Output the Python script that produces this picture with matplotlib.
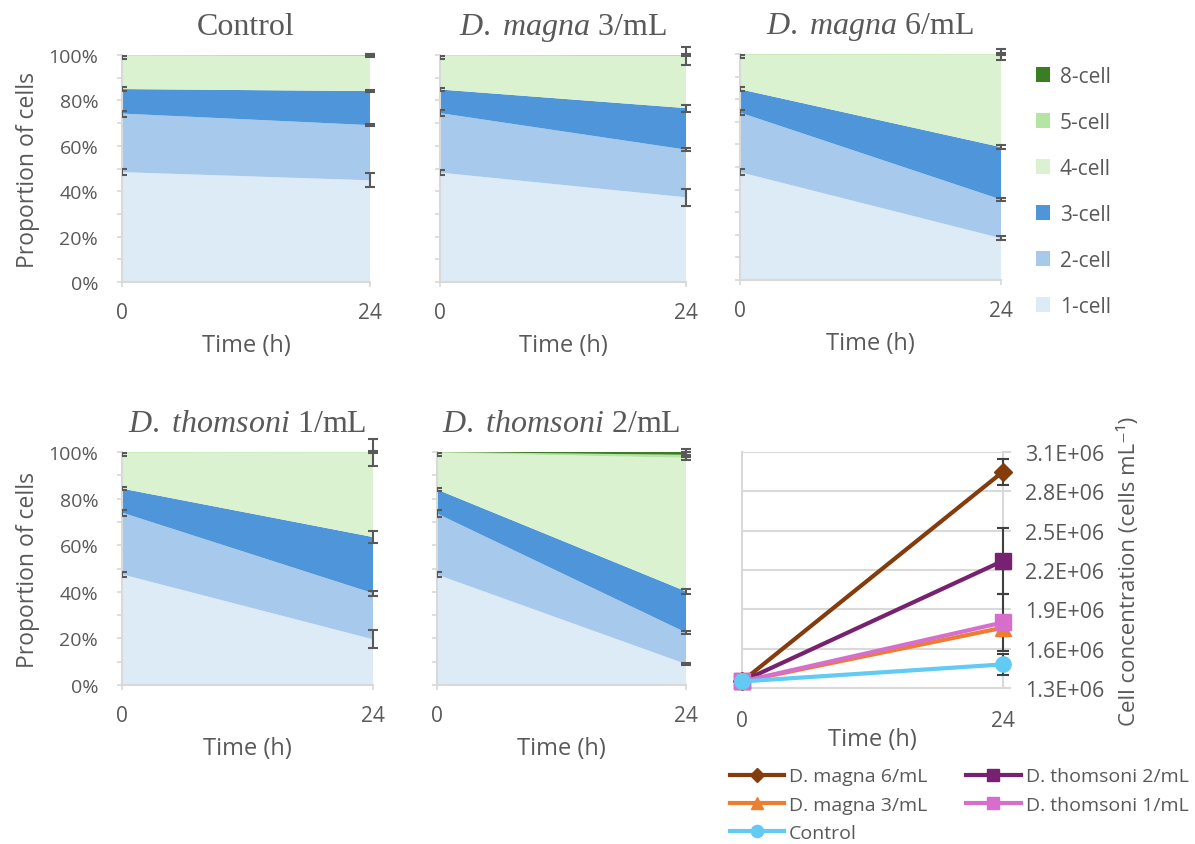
import numpy as np
import matplotlib
matplotlib.use("Agg")
import matplotlib.pyplot as plt
from matplotlib.patches import Patch
from matplotlib.ticker import FuncFormatter, MultipleLocator

plt.rcParams['font.family'] = ['Open Sans', 'DejaVu Sans']
plt.rcParams['mathtext.fontset'] = 'custom'
plt.rcParams['mathtext.rm'] = 'Liberation Serif'
plt.rcParams['mathtext.it'] = 'Liberation Serif:italic'

# ---- data ----
time = [0, 24]
cell_types = ["1-cell", "2-cell", "3-cell", "4-cell", "5-cell", "8-cell"]
cell_colors = ["#DDEBF7", "#A6C9EC", "#4E95D9", "#DAF2D0", "#B4E5A2", "#3B7D23"]

# % of cells at 0 h and 24 h, one row per cell type
control_pct = [[48.4, 44.8], [25.8, 24.3], [10.8, 15.0], [14.7, 15.6], [0.3, 0.2], [0.0, 0.1]]
magna3_pct = [[48.2, 37.3], [26.2, 21.0], [10.4, 18.3], [14.9, 22.9], [0.3, 0.5], [0.0, 0.0]]
magna6_pct = [[47.7, 18.5], [26.4, 17.1], [10.3, 23.2], [15.3, 41.0], [0.3, 0.2], [0.0, 0.0]]
thom1_pct = [[47.5, 19.6], [26.5, 19.8], [10.3, 24.1], [15.4, 36.3], [0.3, 0.2], [0.0, 0.0]]
thom2_pct = [[47.4, 9.0], [26.2, 13.5], [10.3, 17.7], [15.8, 57.3], [0.3, 1.3], [0.0, 1.2]]

control_err = [[1.2, 3.0], [1.3, 0.5], [0.8, 0.5], [1.5, 0.8], [0.3, 0.3], [0.2, 0.3]]
magna3_err = [[1.2, 3.7], [1.3, 0.8], [0.8, 1.5], [1.5, 4.0], [0.3, 0.4], [0.2, 0.2]]
magna6_err = [[1.2, 0.8], [1.3, 0.6], [0.8, 1.0], [1.5, 2.5], [0.3, 0.3], [0.2, 0.2]]
thom1_err = [[1.2, 3.8], [1.3, 1.0], [0.8, 2.4], [1.5, 5.6], [0.3, 0.3], [0.2, 0.2]]
thom2_err = [[1.2, 0.3], [1.3, 0.7], [0.8, 1.0], [1.5, 0.8], [0.3, 1.0], [0.2, 1.5]]

# cell concentration (cells/mL)
treatments = ["D. magna 6/mL", "D. thomsoni 2/mL", "D. magna 3/mL", "D. thomsoni 1/mL", "Control"]
conc_magna6 = [1.35e6, 2.95e6]
conc_thom2 = [1.35e6, 2.27e6]
conc_magna3 = [1.35e6, 1.76e6]
conc_thom1 = [1.35e6, 1.80e6]
conc_control = [1.35e6, 1.48e6]
err_magna6 = [0.02e6, 0.10e6]
err_thom2 = [0.02e6, 0.25e6]
err_magna3 = [0.02e6, 0.06e6]
err_thom1 = [0.02e6, 0.22e6]
err_control = [0.02e6, 0.08e6]
line_colors = ["#843C0C", "#782170", "#ED7D31", "#D86ECC", "#61CBF3"]
line_markers = ["D", "s", "^", "s", "o"]

txt = "#595959"
grey = "#D9D9D9"

W, H = 1195, 845
fig = plt.figure(figsize=(W / 100, H / 100), dpi=100)


def box(l, t, r, b):
    return [l / W, 1 - b / H, (r - l) / W, (b - t) / H]


def stack_panel(rect, pct, err, title, show_y):
    ax = fig.add_axes(box(*rect))
    pct = np.array(pct) / 100
    err = np.array(err) / 100
    ax.stackplot(time, pct, colors=cell_colors)
    tops = np.cumsum(pct, axis=0)
    for i in range(len(cell_types)):
        # 0 h bars are cut by the plot edge, 24 h bars are drawn whole
        for j, clip in zip(range(len(time)), [True, False]):
            ax.errorbar(time[j], tops[i][j], yerr=err[i][j], fmt="none", ecolor=txt,
                        elinewidth=1.5, capsize=3.5, capthick=1.5, clip_on=clip, zorder=5)
    ax.set_xlim(0, 24)
    ax.set_ylim(0, 1)
    ax.set_xticks([0, 24])
    ax.yaxis.set_major_locator(MultipleLocator(0.2))
    ax.yaxis.set_minor_locator(MultipleLocator(0.1))
    ax.yaxis.set_major_formatter(FuncFormatter(lambda v, p: f"{v*100:.0f}%"))
    for s in ["top", "right"]:
        ax.spines[s].set_visible(False)
    for s in ["left", "bottom"]:
        ax.spines[s].set_color(grey)
        ax.spines[s].set_linewidth(1.5)
    ax.tick_params(axis="both", which="both", color=grey, length=3.6, width=1.2,
                   labelcolor=txt, labelsize=14)
    ax.tick_params(axis="x", pad=11, labelsize=15)
    ax.tick_params(axis="y", pad=13.5)
    if show_y:
        ax.set_ylabel("Proportion of cells", fontsize=16.5, color=txt, labelpad=6)
    else:
        ax.tick_params(axis="y", labelleft=False)
    ax.set_xlabel("Time (h)", fontsize=17, color=txt, labelpad=7)
    ax.set_title(title, fontsize=23, color=txt, family="Liberation Serif", pad=15)
    return ax


stack_panel((122, 56, 370, 283), control_pct, control_err, "Control", True)
stack_panel((440, 56, 686, 283), magna3_pct, magna3_err, r"$\mathit{D.\ magna}$ 3/mL", False)
stack_panel((740, 55, 1001, 281), magna6_pct, magna6_err, r"$\mathit{D.\ magna}$ 6/mL", False)
stack_panel((122, 453, 373, 686), thom1_pct, thom1_err, r"$\mathit{D.\ thomsoni}$ 1/mL", True)
stack_panel((437, 453, 686, 686), thom2_pct, thom2_err, r"$\mathit{D.\ thomsoni}$ 2/mL", False)

# cell-type legend
handles = [Patch(facecolor=c, edgecolor="none") for c in cell_colors][::-1]
fig.legend(handles, cell_types[::-1], loc="upper left", bbox_to_anchor=(1017 / W, 1 - 48 / H),
           frameon=False, fontsize=15, labelcolor=txt, handlelength=0.7, handleheight=0.7,
           handletextpad=0.45, labelspacing=1.2)

# concentration line chart
ax = fig.add_axes(box(742, 453, 1003, 689))
concs = [conc_magna6, conc_thom2, conc_magna3, conc_thom1, conc_control]
errs = [err_magna6, err_thom2, err_magna3, err_thom1, err_control]
lines = {}
for name, y, e, c, m in zip(treatments, concs, errs, line_colors, line_markers):
    ax.errorbar(time, y, yerr=e, fmt="none", ecolor="#404040", elinewidth=1.5,
                capsize=4, capthick=1.5, zorder=4, clip_on=False)
for name, y, e, c, m in zip(treatments, concs, errs, line_colors, line_markers):
    ms = 9 if m == "D" else 11
    lines[name], = ax.plot(time, y, color=c, marker=m, markersize=ms, linewidth=3,
                           clip_on=False, zorder=5)
ax.set_xlim(0, 24)
ax.set_ylim(1.3e6, 3.1e6)
ax.set_xticks([0, 24])
ax.set_yticks(np.arange(1.3e6, 3.11e6, 0.3e6))
ax.yaxis.set_major_formatter(FuncFormatter(lambda v, p: f"{v/1e6:.1f}E+06"))
ax.yaxis.tick_right()
ax.yaxis.set_label_position("right")
ax.grid(axis="y", color=grey, linewidth=1.5)
ax.set_axisbelow(True)
ax.spines["top"].set_visible(False)
for s in ["left", "right", "bottom"]:
    ax.spines[s].set_color(grey)
    ax.spines[s].set_linewidth(1.5)
ax.tick_params(axis="y", color=grey, length=5.8, width=1.5, labelcolor=txt, labelsize=15.5, pad=10)
ax.tick_params(axis="x", length=0, pad=16, labelcolor=txt, labelsize=15)
ax.set_xlabel("Time (h)", fontsize=17, color=txt, labelpad=-3)
ax.set_ylabel("Cell concentration (cells mL⁻¹)", fontsize=16, color=txt, labelpad=10)

order = ["D. magna 6/mL", "D. magna 3/mL", "Control", "D. thomsoni 2/mL", "D. thomsoni 1/mL"]
fig.legend([lines[k] for k in order], order, loc="upper left", ncol=2,
           bbox_to_anchor=(712 / W, 1 - 751 / H), frameon=False, fontsize=14,
           labelcolor=txt, handlelength=2.8, handletextpad=0.26, columnspacing=2.0,
           labelspacing=0.52, markerscale=0.8)

fig.savefig("out.png", dpi=100)
